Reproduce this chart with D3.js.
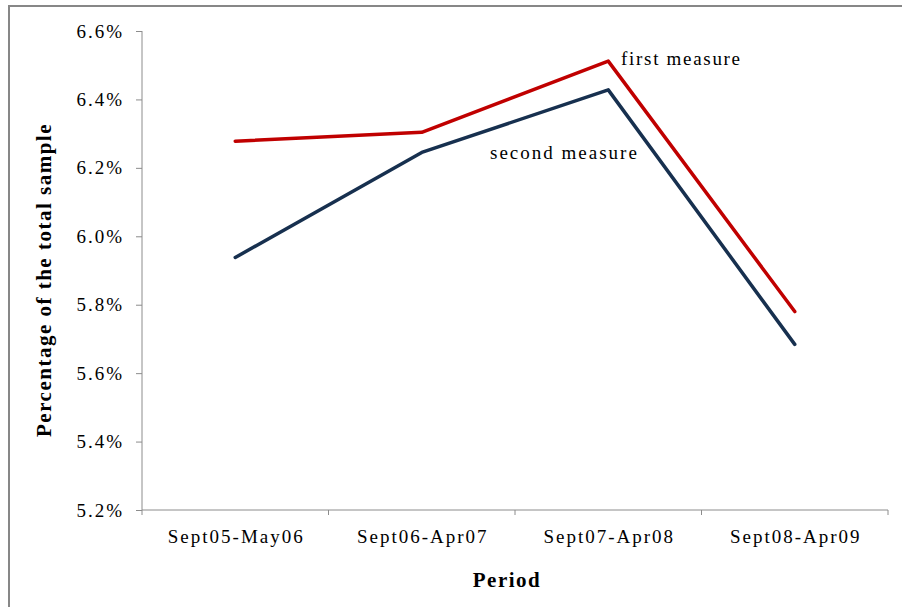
<!DOCTYPE html>
<html>
<head>
<meta charset="utf-8">
<script src="https://cdn.jsdelivr.net/npm/d3@7"></script>
<style>
  html, body { margin: 0; padding: 0; background: #fff; }
  svg { display: block; }
  text { font-family: "Liberation Serif", "Times New Roman", serif; fill: #000; }
</style>
</head>
<body>
<svg id="chart" width="902" height="607"></svg>
<script>
// Periods on the x axis
const periods = ["Sept05-May06", "Sept06-Apr07", "Sept07-Apr08", "Sept08-Apr09"];
// Share of the total sample (%) for each measure
const firstMeasure = [6.278, 6.304, 6.512, 5.780];
const secondMeasure = [5.938, 6.245, 6.428, 5.684];
// Y axis ticks (%)
const yTicks = [5.2, 5.4, 5.6, 5.8, 6.0, 6.2, 6.4, 6.6];

const svg = d3.select("#chart");
const W = 902, H = 607;
const plot = { left: 142, right: 888, top: 31, bottom: 510 };
const labelFont = { size: 19, spacing: 2 };
const titleFont = { size: 21, spacing: 1.5 };

// Outer frame of the chart area
svg.append("path")
  .attr("d", `M9,${H} L9,6 L${W},6`)
  .attr("fill", "none")
  .attr("stroke", "#878787")
  .attr("stroke-width", 2);

const x = d3.scaleBand().domain(periods).range([plot.left, plot.right]);
const y = d3.scaleLinear().domain([5.2, 6.6]).range([plot.bottom, plot.top]);

// Y axis
const yAxis = svg.append("g")
  .attr("transform", `translate(${plot.left},0)`)
  .call(d3.axisLeft(y).tickValues(yTicks).tickSize(6).tickPadding(12)
    .tickFormat(d => d.toFixed(1) + "%"));
yAxis.select(".domain").attr("stroke", "#8c8c8c").attr("d", `M0,${plot.top}V${plot.bottom}`);
yAxis.selectAll(".tick line").attr("stroke", "#8c8c8c");
yAxis.selectAll(".tick text")
  .attr("font-size", labelFont.size)
  .attr("letter-spacing", labelFont.spacing)
  .attr("font-family", "Liberation Serif, serif")
  .attr("fill", "#111");

// X axis with tick marks on the category boundaries
const xAxis = svg.append("g")
  .attr("transform", `translate(0,${plot.bottom})`);
xAxis.append("line")
  .attr("x1", plot.left).attr("x2", plot.right)
  .attr("stroke", "#8c8c8c");
const bounds = periods.map(p => x(p)).concat([x(periods[periods.length - 1]) + x.bandwidth()]);
xAxis.selectAll("line.bt").data(bounds).join("line")
  .attr("class", "bt")
  .attr("x1", d => d).attr("x2", d => d)
  .attr("y1", 0).attr("y2", 5)
  .attr("stroke", "#8c8c8c");
xAxis.selectAll("text.lab").data(periods).join("text")
  .attr("class", "lab")
  .attr("x", d => x(d) + x.bandwidth() / 2 + labelFont.spacing / 2)
  .attr("y", 33)
  .attr("text-anchor", "middle")
  .attr("font-size", labelFont.size)
  .attr("letter-spacing", labelFont.spacing)
  .attr("fill", "#111")
  .text(d => d);

// Axis titles
svg.append("text")
  .attr("transform", "translate(51,280) rotate(-90)")
  .attr("text-anchor", "middle")
  .attr("font-size", titleFont.size)
  .attr("letter-spacing", titleFont.spacing)
  .attr("font-weight", "bold")
  .text("Percentage of the total sample");
svg.append("text")
  .attr("x", 507).attr("y", 587)
  .attr("text-anchor", "middle")
  .attr("font-size", titleFont.size)
  .attr("letter-spacing", titleFont.spacing)
  .attr("font-weight", "bold")
  .text("Period");

// Lines
const cx = p => x(p) + x.bandwidth() / 2;
const line = d3.line().x(d => cx(d.p)).y(d => y(d.v));
const series = [
  { values: firstMeasure, color: "#C00000" },
  { values: secondMeasure, color: "#17304F" }
];
series.forEach(s => {
  svg.append("path")
    .datum(periods.map((p, i) => ({ p, v: s.values[i] })))
    .attr("fill", "none")
    .attr("stroke", s.color)
    .attr("stroke-width", 3.5)
    .attr("stroke-linejoin", "round")
    .attr("stroke-linecap", "round")
    .attr("d", line);
});

// Series labels
svg.append("text")
  .attr("x", 621).attr("y", 65)
  .attr("font-size", labelFont.size)
  .attr("letter-spacing", 1.7)
  .text("first measure");
svg.append("text")
  .attr("x", 490).attr("y", 159)
  .attr("font-size", labelFont.size)
  .attr("letter-spacing", labelFont.spacing)
  .text("second measure");
</script>
</body>
</html>
